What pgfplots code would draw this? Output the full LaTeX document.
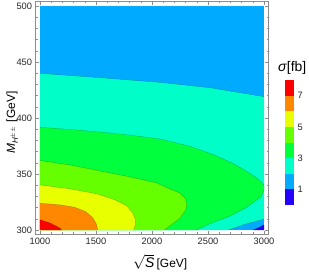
\documentclass[border=0pt]{standalone}
\usepackage{pgfplots}
\pgfplotsset{compat=1.18}
\usepackage{amsmath}
\usepackage{fontspec}
\setmainfont{Liberation Sans}
\definecolor{cRed}{HTML}{FF0000}
\definecolor{cOrange}{HTML}{FF8800}
\definecolor{cYellow}{HTML}{E8FF00}
\definecolor{cYGreen}{HTML}{66FF00}
\definecolor{cGreen}{HTML}{00FF3C}
\definecolor{cAqua}{HTML}{00FFC8}
\definecolor{cLBlue}{HTML}{00AAFF}
\definecolor{cDBlue}{HTML}{2400FF}
\pgfplotsset{contourline/.style={draw=black, draw opacity=0.3, line width=0.35bp, fill=none}}
\begin{document}
\begin{tikzpicture}
\useasboundingbox (0,0) rectangle (309bp,277bp);
\begin{axis}[
  at={(35.5bp,42.5bp)}, anchor=south west,
  width=233bp, height=233bp, scale only axis,
  xmin=960, xmax=3040, ymin=296, ymax=504,
  xtick={1000,1500,2000,2500,3000}, ytick={300,350,400,450,500},
  minor x tick num=4, minor y tick num=4,
  tick align=inside,
  major tick length=3.5bp, minor tick length=2bp,
  axis line style={black!45, line width=0.6bp},
  tick style={black!45, line width=0.5bp},
  tick label style={font=\fontsize{9.3}{10}\selectfont, text=black!85},
  /pgf/number format/assume math mode=true,
  scaled ticks=false, /pgf/number format/1000 sep={},
  xlabel={\fontsize{14}{14}\selectfont$\sqrt{\textit{S}}$\,\fontsize{12}{12}\selectfont[GeV]},
  ylabel={\fontsize{12}{12}\selectfont$\textit{M}_{\textit{H}^{\pm\pm}}$ [GeV]},
  xlabel style={at={(axis description cs:0.535,-0.12)}, anchor=center},
  ylabel style={at={(axis description cs:-0.1,0.48)}, anchor=center},
  axis on top,
]
% level 1-2 background
\addplot[fill=cLBlue, draw=none] coordinates {(1000,300) (3000,300) (3000,500) (1000,500)};
% level 2-3
\addplot[fill=cAqua, draw=none] coordinates {(1000,300) (1000,439.8) (1533,436) (2067,431.8) (2511,427.1) (3000,419) (3000,309.8) (2840,305.5) (2680,300)};
% level 3-4
\addplot[fill=cGreen, draw=none] coordinates {(1000,300) (1000,391.7) (1267,389.8) (1533,387.5) (1800,384.8) (2067,381.3) (2333,375) (2556,367) (2733,359) (2867,351) (2956,344.8) (3000,340) (3000,336) (2973,329.7) (2840,319.9) (2689,312.1) (2538,306.5) (2396,300)};
% level 4-5
\addplot[fill=cYGreen, draw=none] coordinates {(1000,300) (1000,362) (1267,358.1) (1533,352.8) (1800,347.5) (2040,342.1) (2156,336.8) (2244,333.2) (2298,327.9) (2311,322.5) (2298,317.2) (2244,310.1) (2173,304.7) (2111,300)};
% level 5-6
\addplot[fill=cYellow, draw=none] coordinates {(1000,300) (1000,340.3) (1267,336.8) (1507,332.3) (1667,327) (1773,321.7) (1827,315.4) (1853,309.2) (1849,303.8) (1836,300)};
% level 6-7
\addplot[fill=cOrange, draw=none] coordinates {(1000,300) (1000,323.9) (1178,322.5) (1311,320.3) (1409,316.3) (1471,311) (1502,305.6) (1516,300)};
% level 7-8
\addplot[fill=cRed, draw=none] coordinates {(1000,300) (1000,309.2) (1089,306.3) (1178,301.8) (1193,300)};
% level 0-1
\addplot[fill=cDBlue, draw=none] coordinates {(2902,300) (2950,302) (3000,304.7) (3000,300)};
% contour lines
\addplot[contourline] coordinates {(1000,439.8) (1533,436) (2067,431.8) (2511,427.1) (3000,419)};
\addplot[contourline] coordinates {(3000,309.8) (2840,305.5) (2680,300)};
\addplot[contourline] coordinates {(1000,391.7) (1267,389.8) (1533,387.5) (1800,384.8) (2067,381.3) (2333,375) (2556,367) (2733,359) (2867,351) (2956,344.8) (3000,340)};
\addplot[contourline] coordinates {(3000,336) (2973,329.7) (2840,319.9) (2689,312.1) (2538,306.5) (2396,300)};
\addplot[contourline] coordinates {(1000,362) (1267,358.1) (1533,352.8) (1800,347.5) (2040,342.1) (2156,336.8) (2244,333.2) (2298,327.9) (2311,322.5) (2298,317.2) (2244,310.1) (2173,304.7) (2111,300)};
\addplot[contourline] coordinates {(1000,340.3) (1267,336.8) (1507,332.3) (1667,327) (1773,321.7) (1827,315.4) (1853,309.2) (1849,303.8) (1836,300)};
\addplot[contourline] coordinates {(1000,323.9) (1178,322.5) (1311,320.3) (1409,316.3) (1471,311) (1502,305.6) (1516,300)};
\addplot[contourline] coordinates {(1000,309.2) (1089,306.3) (1178,301.8) (1193,300)};
\addplot[contourline] coordinates {(2902,300) (2950,302) (3000,304.7)};
\end{axis}
\begin{axis}[
  at={(284.5bp,72bp)}, anchor=south west,
  width=9.5bp, height=125bp, scale only axis,
  xmin=0, xmax=1, ymin=0, ymax=8,
  xtick=\empty, ytick={1,3,5,7}, yticklabel pos=right,
  major tick length=0pt, axis line style={draw=none},
  tick label style={font=\fontsize{9.3}{10}\selectfont, text=black!85},
  /pgf/number format/assume math mode=true,
  clip=false,
]
\addplot[fill=cDBlue, draw=none] coordinates {(0,0) (1,0) (1,1) (0,1)};
\addplot[fill=cLBlue, draw=none] coordinates {(0,1) (1,1) (1,2) (0,2)};
\addplot[fill=cAqua, draw=none] coordinates {(0,2) (1,2) (1,3) (0,3)};
\addplot[fill=cGreen, draw=none] coordinates {(0,3) (1,3) (1,4) (0,4)};
\addplot[fill=cYGreen, draw=none] coordinates {(0,4) (1,4) (1,5) (0,5)};
\addplot[fill=cYellow, draw=none] coordinates {(0,5) (1,5) (1,6) (0,6)};
\addplot[fill=cOrange, draw=none] coordinates {(0,6) (1,6) (1,7) (0,7)};
\addplot[fill=cRed, draw=none] coordinates {(0,7) (1,7) (1,8) (0,8)};
\node[anchor=south, inner sep=0pt] at (axis cs:0.5,8) [yshift=5bp, xshift=3bp] {\fontsize{14}{14}\selectfont\textit{σ}[fb]};
\end{axis}
\end{tikzpicture}
\end{document}
